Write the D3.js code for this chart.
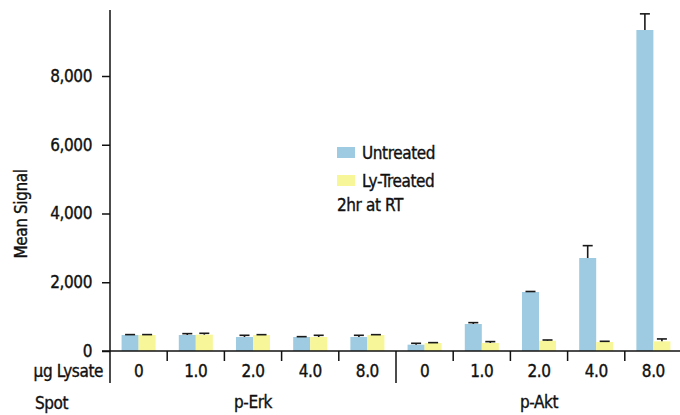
<!DOCTYPE html>
<html><head><meta charset="utf-8">
<script src="https://cdn.jsdelivr.net/npm/d3@7"></script>
<style>
body{margin:0;background:#fff;}
text{font-family:"Liberation Sans Narrow","DejaVu Sans Condensed",sans-serif;fill:#111;stroke:#111;stroke-width:0.35px;letter-spacing:-0.4px;}
</style></head><body>
<svg id="c" width="680" height="415"></svg>
<script>
const doses = ["0","1.0","2.0","4.0","8.0"];
const spots = ["p-Erk","p-Akt"];
const seriesNames = ["Untreated","Ly-Treated"];
const untreated    = [465, 465, 407, 407, 407, 184, 785, 1716, 2705, 9338];
const untreatedErr = [12, 40, 50, 10, 50, 40, 40, 15, 360, 470];
const treated      = [465, 475, 465, 407, 465, 233, 233, 300, 262, 281];
const treatedErr   = [12, 40, 10, 50, 10, 10, 40, 20, 20, 70];
const yTicks = [0, 2000, 4000, 6000, 8000];
const colors = ["#9ecbe1", "#f7f799"];

const svg = d3.select("#c");
const left = 110, right = 682, y0 = 351;
const cats = d3.range(untreated.length);
const x = d3.scaleBand().domain(cats).range([left, right]).paddingInner(0.405).paddingOuter(0.2025);
const x1 = d3.scaleBand().domain([0,1]).range([0, x.bandwidth()]);
const y = d3.scaleLinear().domain([0, 10000]).range([y0, y0 - 68.75*5]);
const step = x.step();

const data = cats.map(i => [
  {i, s:0, v:untreated[i], e:untreatedErr[i]},
  {i, s:1, v:treated[i], e:treatedErr[i]}
]).flat();

svg.append("g").selectAll("rect").data(data).join("rect")
  .attr("x", d => x(d.i) + x1(d.s))
  .attr("width", x1.bandwidth())
  .attr("y", d => y(d.v))
  .attr("height", d => y(0) - y(d.v))
  .attr("fill", d => colors[d.s]);

const eg = svg.append("g").attr("stroke", "#1a1a1a").attr("stroke-width", 1.6);
data.forEach(d => {
  const cx = x(d.i) + x1(d.s) + x1.bandwidth()/2;
  eg.append("line").attr("x1", cx).attr("x2", cx).attr("y1", y(d.v)).attr("y2", y(d.v + d.e));
  eg.append("line").attr("x1", cx-5).attr("x2", cx+5).attr("y1", y(d.v + d.e)).attr("y2", y(d.v + d.e));
});

const ya = svg.append("g").attr("transform", `translate(${left},0)`)
  .call(d3.axisLeft(y).tickValues(yTicks).tickSize(8).tickSizeOuter(0).tickPadding(10)
        .tickFormat(d3.format(",")));
ya.select(".domain").remove();
ya.selectAll("line").attr("stroke", "#111").attr("stroke-width", 1.5);
ya.selectAll("text").attr("font-size", 17).attr("fill", "#111")
  .style("font-family", '"Liberation Sans Narrow","DejaVu Sans Condensed",sans-serif');

const ax = svg.append("g").attr("stroke", "#111").attr("stroke-width", 1.5);
ax.append("line").attr("x1", left).attr("x2", left).attr("y1", 10).attr("y2", 383);
ax.append("line").attr("x1", 102).attr("x2", right).attr("y1", y0).attr("y2", y0);
cats.slice(1).forEach(i => {
  const bx = left + i*step;
  const long = (i === doses.length);
  ax.append("line").attr("x1", bx).attr("x2", bx).attr("y1", y0).attr("y2", long ? 383 : 361);
});

svg.append("g").selectAll("text").data(cats).join("text")
  .attr("x", i => x(i) + x.bandwidth()/2)
  .attr("y", 377)
  .attr("text-anchor", "middle").attr("font-size", 17)
  .text(i => doses[i % doses.length]);

spots.forEach((s, k) => {
  svg.append("text")
    .attr("x", left + (k*doses.length + doses.length/2)*step)
    .attr("y", 408).attr("text-anchor", "middle").attr("font-size", 17).text(s);
});

svg.append("text").attr("x", 103).attr("y", 377).attr("text-anchor", "end").attr("font-size", 17).text("µg Lysate");
svg.append("text").attr("x", 35).attr("y", 409).attr("font-size", 17).text("Spot");

svg.append("text").attr("transform", "translate(27,214) rotate(-90)")
  .attr("text-anchor", "middle").attr("font-size", 17).text("Mean Signal");

const lg = svg.append("g");
seriesNames.forEach((n, k) => {
  lg.append("rect").attr("x", 337).attr("y", 147 + k*28).attr("width", 18).attr("height", 11).attr("fill", colors[k]);
  lg.append("text").attr("x", 362).attr("y", 159 + k*28).attr("font-size", 17).text(n);
});
lg.append("text").attr("x", 337).attr("y", 211).attr("font-size", 17).text("2hr at RT");
</script>
</body></html>
